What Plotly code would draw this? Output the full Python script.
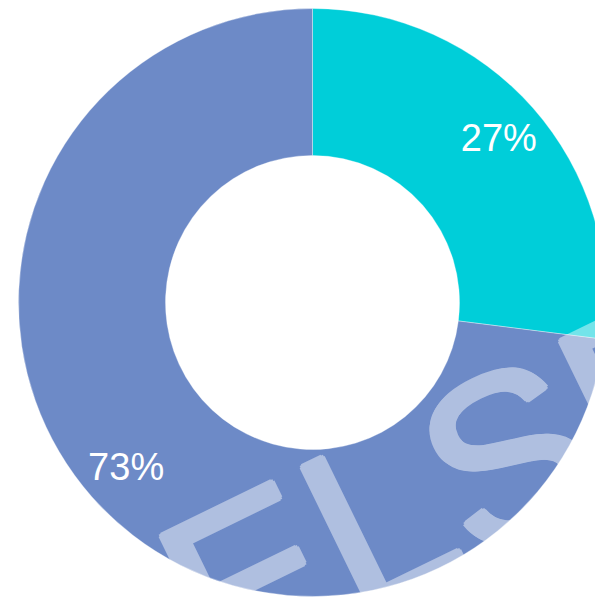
import plotly.graph_objects as go

labels = ["Segment A", "Segment B"]
values = [27, 73]
colors = ["#00CED9", "#6D8AC7"]
text_labels = ["27%", "73%"]

dom = dict(x=[0, 1], y=[0.0173, 0.986])

fig = go.Figure()
# donut ring
fig.add_trace(go.Pie(
    labels=labels,
    values=values,
    textinfo="none",
    marker=dict(colors=colors, line=dict(color="rgba(255,255,255,0.35)", width=1)),
    hole=0.5,
    sort=False,
    direction="clockwise",
    rotation=0,
    showlegend=False,
    domain=dom,
))
# label ring (transparent) so percentage labels sit in the outer part of the ring
fig.add_trace(go.Pie(
    labels=labels,
    values=values,
    text=text_labels,
    textinfo="text",
    textposition="inside",
    insidetextorientation="horizontal",
    textfont=dict(family="Liberation Sans, Arial, sans-serif", size=38, color="white"),
    marker=dict(colors=["rgba(0,0,0,0)", "rgba(0,0,0,0)"], line=dict(width=0)),
    hole=0.69,
    sort=False,
    direction="clockwise",
    rotation=0,
    showlegend=False,
    hoverinfo="skip",
    domain=dom,
))

sh = "white"
fig.add_annotation(
    text="ELSEVIER", x=1.112, y=0.40, xref="paper", yref="paper",
    xanchor="center", yanchor="middle",
    showarrow=False, textangle=-26, opacity=0.45,
    font=dict(
        family="Liberation Sans, Arial, sans-serif", size=235, color="white",
        shadow=(f"3px 0 0 {sh}, -3px 0 0 {sh}, 0 3px 0 {sh}, 0 -3px 0 {sh}, "
                f"2px 2px 0 {sh}, -2px -2px 0 {sh}, 2px -2px 0 {sh}, -2px 2px 0 {sh}"),
    ),
)

fig.update_layout(
    width=625, height=607,
    margin=dict(l=0, r=0, t=0, b=0),
    paper_bgcolor="white", plot_bgcolor="white",
)
fig.write_html("out.html")
